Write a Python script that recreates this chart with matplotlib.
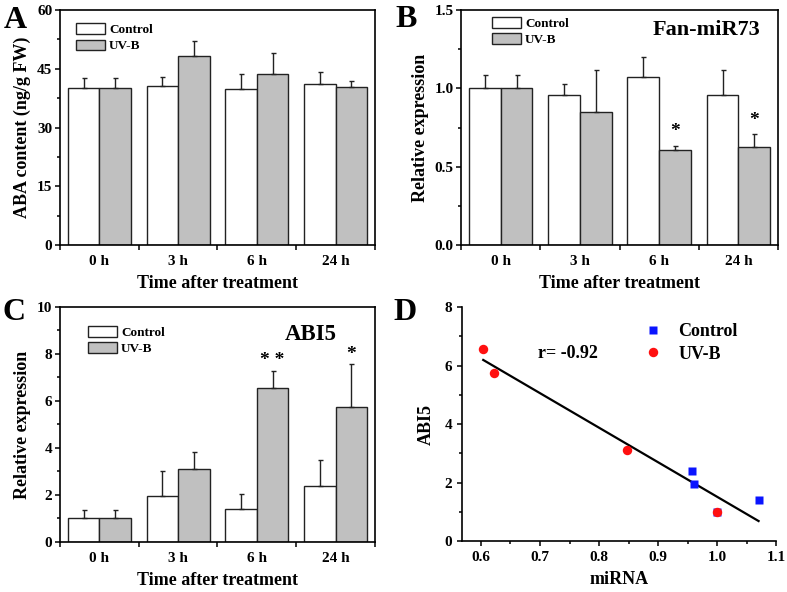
import matplotlib
matplotlib.use("Agg")
import matplotlib.pyplot as plt
from matplotlib.ticker import MultipleLocator, FormatStrFormatter
import numpy as np

plt.rcParams["font.family"] = ["Liberation Serif", "DejaVu Serif"]
plt.rcParams["font.weight"] = "bold"
plt.rcParams["axes.labelweight"] = "bold"
plt.rcParams["axes.linewidth"] = 1.2

# ---- data ----
times = ["0 h", "3 h", "6 h", "24 h"]
groups = ["Control", "UV-B"]

aba_ctrl = [40.0, 40.7, 39.8, 41.0]
aba_ctrl_err = [2.6, 2.1, 3.8, 3.3]
aba_uv = [40.0, 48.2, 43.6, 40.3]
aba_uv_err = [2.6, 4.0, 5.5, 1.7]

mir_ctrl = [1.0, 0.96, 1.07, 0.957]
mir_ctrl_err = [0.083, 0.07, 0.132, 0.16]
mir_uv = [1.0, 0.847, 0.604, 0.623]
mir_uv_err = [0.083, 0.27, 0.03, 0.085]
mir_stars = ["", "", "*", "*"]

abi_ctrl = [1.0, 1.95, 1.41, 2.40]
abi_ctrl_err = [0.34, 1.09, 0.64, 1.08]
abi_uv = [1.0, 3.10, 6.57, 5.75]
abi_uv_err = [0.34, 0.74, 0.72, 1.81]
abi_stars = ["", "", "* *", "*"]

r_value = -0.92

COL_CTRL = "white"
COL_UV = "#c0c0c0"

fig = plt.figure(figsize=(7.87, 5.92), dpi=100)
axA = fig.add_axes([0.0762, 0.5861, 0.4003, 0.397])
axB = fig.add_axes([0.5858, 0.5861, 0.4028, 0.397])
axC = fig.add_axes([0.0762, 0.0845, 0.4003, 0.397])
axD = fig.add_axes([0.587, 0.0861, 0.3994, 0.3953])


def bar_panel(ax, ctrl, ctrl_err, uv, uv_err, ymax, major, minor, fmt, ylabel,
              leg_xy, stars=None, star_off=0.0):
    x = np.arange(len(times))
    w = 0.4
    ek = dict(elinewidth=1, capsize=1.8, capthick=1, ecolor="#222222")
    ax.bar(x - w/2, ctrl, w, color=COL_CTRL, edgecolor="#222222", lw=1, label=groups[0])
    ax.bar(x + w/2, uv, w, color=COL_UV, edgecolor="#222222", lw=1, label=groups[1])
    ax.errorbar(x - w/2, ctrl, yerr=[np.zeros(len(x)), ctrl_err], fmt="none", **ek)
    ax.errorbar(x + w/2, uv, yerr=[np.zeros(len(x)), uv_err], fmt="none", **ek)
    if stars:
        for xi, v, e, s in zip(x, uv, uv_err, stars):
            if s:
                ax.text(xi + w/2, v + e + star_off, s, ha="center", va="baseline",
                        fontsize=14)
    ax.set_xlim(-0.5, 3.5)
    ax.set_ylim(0, ymax)
    ax.set_xticks(x)
    ax.set_xticklabels(times)
    ax.set_xticks(np.arange(-0.5, 3.6, 1.0), minor=True)
    ax.tick_params(axis="x", which="major", length=0, pad=7, labelsize=11)
    ax.tick_params(axis="x", which="minor", length=3.5, width=1.1, direction="out")
    ax.yaxis.set_major_locator(MultipleLocator(major))
    ax.yaxis.set_minor_locator(MultipleLocator(minor))
    ax.yaxis.set_major_formatter(FormatStrFormatter(fmt))
    ax.tick_params(axis="y", which="major", length=3.5, width=1.1, pad=2, labelsize=11)
    ax.tick_params(axis="y", which="minor", length=2.5, width=1.1)
    ax.set_xlabel("Time after treatment", fontsize=13, labelpad=5)
    ax.set_ylabel(ylabel, fontsize=13, labelpad=4)
    ax.legend(loc="upper left", bbox_to_anchor=leg_xy, frameon=False, fontsize=9.5,
              handlelength=2.2, handleheight=0.85, handletextpad=0.3,
              labelspacing=0.25, borderpad=0, borderaxespad=0)


bar_panel(axA, aba_ctrl, aba_ctrl_err, aba_uv, aba_uv_err, 60, 15, 7.5, "%d",
          "ABA content (ng/g FW)", (0.051, 0.943))
bar_panel(axB, mir_ctrl, mir_ctrl_err, mir_uv, mir_uv_err, 1.5, 0.5, 0.25, "%.1f",
          "Relative expression", (0.098, 0.97), mir_stars, 0.06)
axB.text(0.943, 0.894, "Fan-miR73", transform=axB.transAxes, ha="right",
         va="baseline", fontsize=16)
bar_panel(axC, abi_ctrl, abi_ctrl_err, abi_uv, abi_uv_err, 10, 2, 1, "%d",
          "Relative expression", (0.089, 0.918), abi_stars, 0.22)
axC.text(0.879, 0.86, "ABI5", transform=axC.transAxes, ha="right",
         va="baseline", fontsize=16.5)

# ---- D: correlation of miRNA vs ABI5 ----
xs = np.array(mir_ctrl + mir_uv)
ys = np.array(abi_ctrl + abi_uv)
k, b0 = np.polyfit(xs, ys, 1)
xx = np.array([xs.min(), xs.max()])
axD.plot(xx, k*xx + b0, color="black", lw=1.6)
axD.plot(mir_ctrl, abi_ctrl, "s", color="#0a14ff", ms=6, mec="none", label=groups[0])
axD.plot(mir_uv, abi_uv, "o", color="#ff1010", ms=6.8, mec="none", label=groups[1])
axD.text(0.697, 6.25, f"r= {r_value:.2f}", fontsize=13, va="baseline")
axD.set_xlim(0.568, 1.1)
axD.set_ylim(0, 8)
axD.xaxis.set_major_locator(MultipleLocator(0.1))
axD.xaxis.set_minor_locator(MultipleLocator(0.05))
axD.yaxis.set_major_locator(MultipleLocator(2))
axD.yaxis.set_minor_locator(MultipleLocator(1))
axD.xaxis.set_major_formatter(FormatStrFormatter("%.1f"))
axD.spines[["top", "right"]].set_visible(False)
axD.tick_params(which="major", length=3.5, width=1.1, labelsize=11)
axD.tick_params(which="minor", length=2.5, width=1.1)
axD.tick_params(axis="x", pad=4)
axD.set_xlabel("miRNA", fontsize=13, labelpad=5)
axD.set_ylabel("ABI5", fontsize=13, labelpad=7)
axD.legend(loc="upper left", bbox_to_anchor=(0.58, 0.93), frameon=False, fontsize=13,
           handlelength=1.0, handletextpad=0.9, labelspacing=0.3, borderpad=0,
           borderaxespad=0, numpoints=1)

# panel letters
for lab, (px, py) in zip("ABCD", [(4, 28), (395, 27), (3, 320), (393, 320)]):
    fig.text(px/787, 1 - py/592, lab, fontsize=23, fontweight="bold", va="baseline")

plt.savefig("out.png", dpi=100)
